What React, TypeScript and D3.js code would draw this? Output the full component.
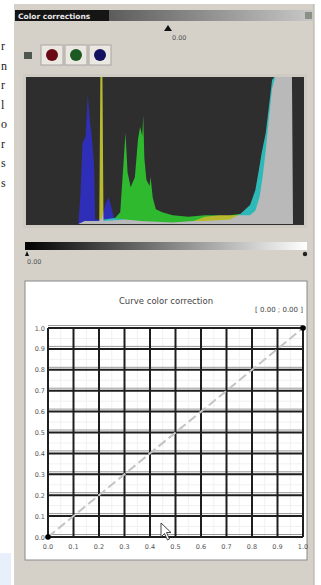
import React from "react";
import * as d3 from "d3";

// ---- data ----
const redHist: [number, number][] = [[0,0],[50,0],[56,2],[70,2],[71,100],[73,100],[74,2],[95,3],[110,2],[140,1],[160,2],[171,5],[185,6],[195,6],[205,6],[214,6],[219,9],[223,18],[226,32],[229,50],[232,72],[235,92],[238,100],[254,100],[255,0]];
const greenHist: [number, number][] = [[0,0],[50,0],[56,2],[70,2],[71,100],[73,100],[74,3],[85,4],[90,8],[93,40],[95,62],[97,35],[100,25],[104,32],[107,58],[109,66],[111,60],[112,74],[113,45],[115,30],[118,26],[119,32],[121,18],[124,10],[130,8],[140,6],[155,5],[171,6],[185,6],[195,6],[205,7],[214,13],[219,23],[222,35],[225,48],[229,62],[232,80],[235,98],[237,100],[254,100],[255,0]];
const blueHist: [number, number][] = [[0,0],[50,0],[52,20],[54,55],[57,60],[59,88],[61,70],[63,58],[65,40],[66,3],[72,3],[74,8],[76,14],[79,18],[82,10],[84,4],[95,3],[110,2],[140,1],[160,2],[171,2],[195,3],[205,7],[214,13],[219,23],[222,35],[225,48],[229,62],[232,80],[235,98],[237,100],[254,100],[255,0]];
const channelColors = ["#aa0000", "#00aa00", "#0000aa"];
const buttonColors = ["#6a0a16", "#1b5a22", "#12125e"];
const gridTicks = [0, 0.1, 0.2, 0.3, 0.4, 0.5, 0.6, 0.7, 0.8, 0.9, 1.0];
const tickLabels = ["0.0","0.1","0.2","0.3","0.4","0.5","0.6","0.7","0.8","0.9","1.0"];
const curvePoints: [number, number][] = [[0, 0], [1, 1]];
const sideLetters = ["r", "n", "r", "l", "o", "r", "s", "s"];
const title = "Color corrections";
const curveTitle = "Curve color correction";
const rangeLabel = "[ 0.00 ; 0.00 ]";
const valueLabel = "0.00";

export default function App() {
  const xH = d3.scaleLinear().domain([0, 255]).range([26, 293]);
  const yH = d3.scaleLinear().domain([0, 100]).range([224, 77]);
  const area = d3.area<[number, number]>().x(d => xH(d[0])).y0(yH(0)).y1(d => yH(d[1]));

  const xC = d3.scaleLinear().domain([0, 1]).range([48, 303]);
  const yC = d3.scaleLinear().domain([0, 1]).range([537, 328]);
  const minor = d3.range(0.05, 1, 0.1);
  const font = "'DejaVu Sans', sans-serif";

  return (
    <svg width={321} height={585} style={{ position: "absolute", left: 0, top: 0, background: "#fff" }}>
      <defs>
        <linearGradient id="tb" x1="0" x2="1" y1="0" y2="0">
          <stop offset="0" stopColor="#2a2a2a" />
          <stop offset="1" stopColor="#c8c8c8" />
        </linearGradient>
        <linearGradient id="gb" x1="0" x2="1" y1="0" y2="0">
          <stop offset="0" stopColor="#000" />
          <stop offset="1" stopColor="#fff" />
        </linearGradient>
      </defs>
      {/* left page text fragments */}
      {sideLetters.map((c, i) => (
        <text key={i} x={1} y={50 + i * 19.5} fontFamily="serif" fontSize={12} fill="#222">{c}</text>
      ))}
      <rect x={0} y={553} width={11} height={32} fill="#e6effa" />
      {/* panel */}
      <rect x={14} y={4} width={300} height={581} fill="#d5d1c9" />
      <line x1={314} y1={4} x2={314} y2={585} stroke="#b0aca4" />
      {/* title bar */}
      <rect x={15} y={10} width={298} height={11} fill="url(#tb)" />
      <rect x={15} y={10} width={94} height={11} fill="#151515" />
      <text x={18} y={18.5} fontFamily={font} fontSize={7.5} fontWeight="bold" fill="#e8e8e8">{title}</text>
      <rect x={305} y={12} width={7} height={7} fill="#8a9088" />
      {/* marker */}
      <path d="M164,31 L168,25 L172,31 Z" fill="#111" />
      <text x={172} y={40} fontFamily={font} fontSize={6.5} fill="#555">{valueLabel}</text>
      {/* buttons */}
      <rect x={24} y={52} width={8} height={7} fill="#4e574e" />
      {buttonColors.map((c, i) => (
        <g key={i}>
          <rect x={41 + i * 24} y={45} width={22} height={20} fill="#ebe8e2" stroke="#a9a5a0" />
          <circle cx={52 + i * 24} cy={55} r={6} fill={c} />
        </g>
      ))}
      {/* histogram */}
      <rect x={23} y={74} width={284} height={154} fill="#cfcbc3" />
      <g style={{ isolation: "isolate" }}>
        <rect x={26} y={77} width={278} height={148} fill="#2e2e2e" />
        {[redHist, greenHist, blueHist].map((h, i) => (
          <path key={i} d={area(h) || ""} fill={channelColors[i]} style={{ mixBlendMode: "screen" }} />
        ))}
      </g>
      {/* gradient bar */}
      <rect x={25} y={242} width={282} height={8} fill="url(#gb)" />
      <path d="M25,256 L27,251 L29,256 Z" fill="#111" />
      <circle cx={305} cy={254} r={2.2} fill="#222" />
      <text x={27} y={264} fontFamily={font} fontSize={6.5} fill="#555">{valueLabel}</text>
      {/* curve panel */}
      <rect x={25} y={281} width={282} height={279} fill="#fff" stroke="#8a8a8a" />
      <text x={166} y={304} textAnchor="middle" fontFamily={font} fontSize={8.5} fill="#444">{curveTitle}</text>
      <text x={303} y={312} textAnchor="end" fontFamily={font} fontSize={7} fill="#444">{rangeLabel}</text>
      {minor.map((t, i) => (
        <g key={"m" + i}>
          <line x1={xC(t)} x2={xC(t)} y1={yC(1)} y2={yC(0)} stroke="#f0f0f0" />
          <line x1={xC(0)} x2={xC(1)} y1={yC(t)} y2={yC(t)} stroke="#f0f0f0" />
        </g>
      ))}
      {gridTicks.map((t, i) => (
        <g key={"h" + i}>
          <line x1={xC(0)} x2={xC(1)} y1={yC(t) - 2.5} y2={yC(t) - 2.5} stroke="#9a9a9a" strokeWidth={1} />
          <line x1={xC(0)} x2={xC(1)} y1={yC(t)} y2={yC(t)} stroke="#1e1e1e" strokeWidth={2} />
        </g>
      ))}
      {gridTicks.map((t, i) => (
        <line key={"v" + i} x1={xC(t)} x2={xC(t)} y1={yC(1)} y2={yC(0)} stroke="#1e1e1e" strokeWidth={2} />
      ))}
      <line x1={xC(0)} y1={yC(0)} x2={xC(1)} y2={yC(1)} stroke="#c4c4c4" strokeWidth={2} strokeDasharray="9,4" />
      {curvePoints.map((p, i) => (
        <circle key={i} cx={xC(p[0])} cy={yC(p[1])} r={2.8} fill="#000" />
      ))}
      {gridTicks.map((t, i) => (
        <text key={"yl" + i} x={45} y={yC(t) + 2.5} textAnchor="end" fontFamily={font} fontSize={6.5} fill="#555">{tickLabels[i]}</text>
      ))}
      {gridTicks.map((t, i) => (
        <text key={"xl" + i} x={xC(t)} y={549} textAnchor="middle" fontFamily={font} fontSize={6.5} fill="#555">{tickLabels[i]}</text>
      ))}
      {/* mouse cursor */}
      <path d="M161,523 L161,537 L164.5,533.5 L167.5,540 L169.5,539 L166.5,532.5 L171,532.5 Z" fill="#fff" stroke="#333" strokeWidth={0.9} />
    </svg>
  );
}
